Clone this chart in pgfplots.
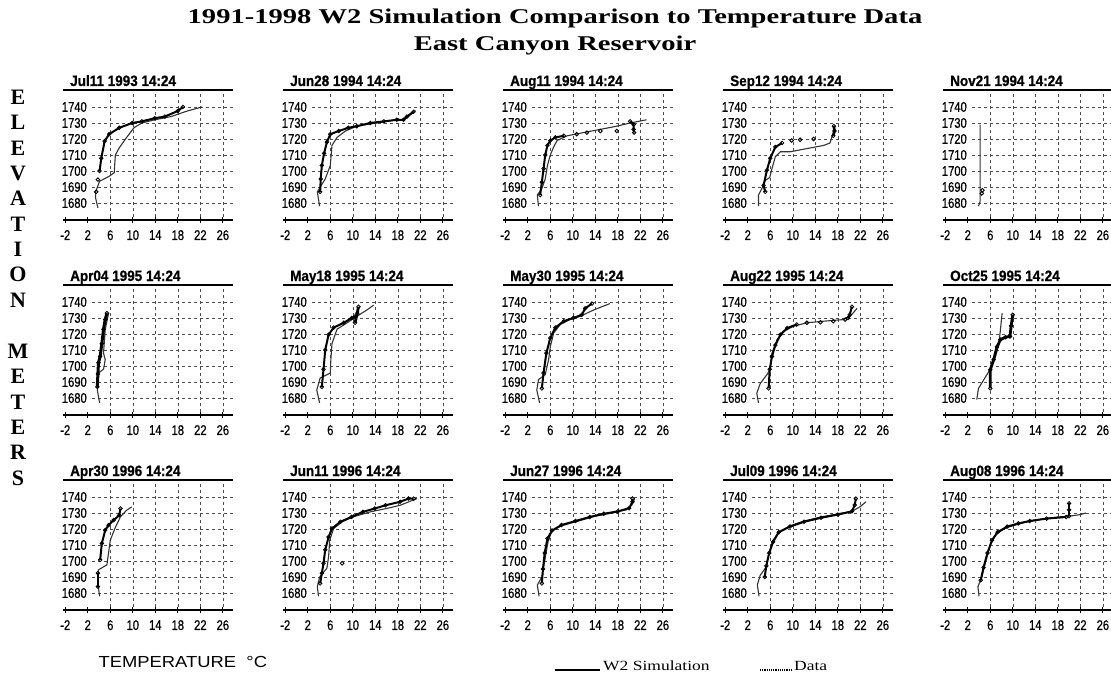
\documentclass[border=0pt]{standalone}
\usepackage{pgfplots}
\pgfplotsset{compat=1.18}
\usepackage{fontspec}
\setmainfont{Liberation Serif}
\newfontfamily\tickfont[FakeStretch=0.8, FakeBold=0.6]{Liberation Sans}
\newfontfamily\ptfont[FakeStretch=0.9, FakeBold=0.8]{Liberation Sans}
\newfontfamily\headfont[FakeStretch=1.36]{Liberation Serif}
\newfontfamily\legfont[FakeStretch=1.25]{Liberation Serif}
\newfontfamily\sansleg[FakeStretch=1.15]{Liberation Sans}
\newfontfamily\sidefont{Liberation Serif}

\tikzset{gridline/.style={black!70, line width=0.6pt, dash pattern=on 3pt off 3pt}}
\pgfplotsset{
  panel/.style={
    width=170pt, height=130pt, scale only axis,
    xmin=-2.4, xmax=27.8, ymin=1669.4, ymax=1750.6,
    xtick={-2,2,...,26}, ytick={1680,1690,...,1740},
    axis line style={draw=none},
    xtick pos=bottom, ytick pos=left,
    x tick style={black, line width=0.8pt},
    y tick style={draw=none},
    major tick length=6pt, tick align=center,
    /pgf/number format/assume math mode=true,
    /pgf/number format/1000 sep={},
    yticklabel style={font={\tickfont\fontsize{14pt}{14pt}\selectfont}, anchor=east, inner sep=0pt, xshift=27pt},
    xticklabel style={font={\tickfont\fontsize{14pt}{14pt}\selectfont}, anchor=north, inner sep=0pt, yshift=-7pt},
    clip mode=individual,
  },
  sim/.style={black!80, line width=1.1pt, no marks},
  dat/.style={black, line width=2pt, mark=o, mark size=1.8pt, mark options={line width=0.8pt, solid}},
  datm/.style={black, only marks, mark=o, mark size=1.8pt, mark options={line width=0.9pt}},
}

\newcommand\panelframe[1]{%
  \pgfplotsinvokeforeach{1680,1690,1700,1710,1720,1730,1740}{\draw[gridline] (axis cs:2.8,##1) -- (axis cs:27.8,##1);}
  \pgfplotsinvokeforeach{6,10,14,18,22,26}{\draw[gridline] (axis cs:##1,1671.5) -- (axis cs:##1,1749);}
  \draw[line width=2pt] (rel axis cs:0,0) -- (rel axis cs:1,0);
  \draw[line width=2pt] (rel axis cs:0,1) -- (rel axis cs:1,1);
  \node[anchor=base west, inner sep=0pt, font={\ptfont\fontsize{15pt}{15pt}\selectfont\bfseries}] at ([xshift=7pt,yshift=4pt]rel axis cs:0,1) {#1};
}

\begin{document}
\begin{tikzpicture}
\useasboundingbox (0pt,0pt) rectangle (1111pt,-679pt);

% main title
\node[font={\headfont\fontsize{21pt}{21pt}\selectfont\bfseries}] at (555pt,-18pt) {1991-1998 W2 Simulation Comparison to Temperature Data};
\node[font={\headfont\fontsize{21pt}{21pt}\selectfont\bfseries}] at (555pt,-45pt) {East Canyon Reservoir};

% side label
\foreach \l/\yy in {E/97,L/122.4,E/147.8,V/173.2,A/198.6,T/224,I/249.4,O/274.8,N/300.2,M/351,E/376.4,T/401.8,E/427.2,R/452.6,S/478}
  \node[font={\sidefont\fontsize{22pt}{22pt}\selectfont\bfseries}] at (18pt,-\yy pt) {\l};

% ---------------- Row 1 ----------------
\begin{axis}[panel, at={(63pt,-90pt)}, anchor=north west]
\panelframe{Jul11 1993 14:24}
\addplot[sim] coordinates {(3.8,1677)(3.4,1683)(3.4,1687)(4.1,1693.6)(5.8,1696.7)(6.7,1699)(6.9,1710)(7.6,1714.5)(8.7,1720)(10.2,1727)(11.6,1730)(13.9,1732)(16.8,1734)(19.7,1737.5)(22.3,1740)};
\addplot[datm] coordinates {(3.5,1687)(3.8,1694.6)};
\addplot[dat] coordinates {(4.1,1700)(4.4,1708)(5,1718.7)(5.8,1723)(7.6,1727)(9.9,1730)(11.6,1731)(13.9,1733)(15.7,1734)(18,1737.5)(18.9,1740)};
\end{axis}

\begin{axis}[panel, at={(283pt,-90pt)}, anchor=north west]
\panelframe{Jun28 1994 14:24}
\addplot[sim] coordinates {(4.1,1678)(3.7,1687)(5.1,1695)(6,1703.5)(6.3,1716)(7.2,1721)(8.7,1725)(10.7,1728)(14.3,1730)(17.8,1732)(19,1732)(19.9,1734)(21.1,1738)};
\addplot[dat] coordinates {(4.2,1687)(4.3,1695)(4.5,1703.5)(4.9,1711)(5.4,1718)(6,1723)(7.5,1725)(9.2,1727)(10.7,1728)(13.1,1730)(15.5,1731)(17.8,1732)(19,1732)(19.6,1734)(20.8,1737)};
\end{axis}

\begin{axis}[panel, at={(503pt,-90pt)}, anchor=north west]
\panelframe{Aug11 1994 14:24}
\addplot[sim] coordinates {(3.9,1678)(3.7,1685)(4.5,1689)(5.1,1695)(5.5,1703.5)(6,1710)(6.6,1715)(7.2,1719)(9,1722)(11.9,1724)(14.9,1726)(17.8,1728)(20.2,1730)(23.1,1732)};
\addplot[dat] coordinates {(4.2,1685)(4.5,1693)(4.8,1701.5)(5.1,1710)(5.5,1716)(6,1719)(6.9,1721)(8.4,1722)};
\addplot[datm] coordinates {(10.7,1723)(12.5,1724)(14.9,1725)(17.8,1725)};
\addplot[dat] coordinates {(20.2,1731)(20.8,1729)(20.8,1726)(20.9,1724)};
\end{axis}

\begin{axis}[panel, at={(723pt,-90pt)}, anchor=north west]
\panelframe{Sep12 1994 14:24}
\addplot[sim] coordinates {(3.9,1678)(3.9,1685)(4.5,1689)(5.1,1694)(5.9,1696)(6.3,1701.5)(6.9,1709)(7.8,1712)(9.5,1712)(12.5,1714)(15.5,1716)(16.6,1717.5)(17.2,1724)(17.3,1728)};
\addplot[dat] coordinates {(5.1,1687)(4.8,1691)(5.4,1700.5)(6,1708)(6.9,1715)(8.1,1717.5)};
\addplot[datm] coordinates {(9.8,1719)(11.3,1719.5)(13.7,1720)};
\addplot[dat, line width=2.6pt] coordinates {(17.2,1722)(17.4,1725)(17.3,1728)};
\end{axis}

\begin{axis}[panel, at={(943pt,-90pt)}, anchor=north west]
\panelframe{Nov21 1994 14:24}
\addplot[sim] coordinates {(3.9,1678)(4.2,1681)(4.2,1729)};
\addplot[datm] coordinates {(4.5,1686)(4.6,1688)};
\end{axis}

% ---------------- Row 2 ----------------
\begin{axis}[panel, at={(63pt,-285pt)}, anchor=north west]
\panelframe{Apr04 1995 14:24}
\addplot[sim] coordinates {(4.1,1677)(3.7,1685)(3.9,1695.6)(4.8,1698)(5.1,1704)(4.8,1708)(5.1,1722.7)(5.7,1733)};
\addplot[dat, line width=3pt] coordinates {(3.7,1687)(3.8,1695)(3.9,1702)(4.2,1706)(4.5,1714)(4.8,1723)(5.1,1729)(5.4,1733)};
\end{axis}

\begin{axis}[panel, at={(283pt,-285pt)}, anchor=north west]
\panelframe{May18 1995 14:24}
\addplot[sim] coordinates {(4.1,1677)(3.6,1685)(4.2,1692.5)(6,1695.6)(6.1,1704)(6.3,1714)(7.2,1723)(9,1727)(10.7,1731)(12.5,1735)(13.7,1738)};
\addplot[dat] coordinates {(4.5,1687)(4.8,1698)(5.1,1710)(5.7,1719.6)(6.6,1724)(8.4,1727)(9.8,1730)(10.4,1731)};
\addplot[dat, line width=2.8pt] coordinates {(10.4,1727)(10.8,1733)(11,1737)};
\end{axis}

\begin{axis}[panel, at={(503pt,-285pt)}, anchor=north west]
\panelframe{May30 1995 14:24}
\addplot[sim] coordinates {(4.1,1677)(3.6,1685)(3.9,1691.5)(5.1,1694.6)(5.7,1704)(6,1712)(6.6,1720.6)(7.8,1726)(9.5,1729)(11.3,1731)(13.7,1735)(16.6,1739)};
\addplot[dat] coordinates {(4.5,1686)(4.8,1695.6)(5.3,1708)(6,1717.5)(6.9,1724)(8.4,1728)(10.1,1730)(11.6,1732)(12.2,1736)(13.4,1739)};
\end{axis}

\begin{axis}[panel, at={(723pt,-285pt)}, anchor=north west]
\panelframe{Aug22 1995 14:24}
\addplot[sim] coordinates {(3.9,1677)(3.6,1683)(4.2,1689)(5.4,1694.6)(6,1698)(6.3,1708)(7.2,1716.5)(8.4,1721.7)(10.1,1724.8)(12.5,1727)(15.5,1728)(19,1729)(20.2,1731)(21.4,1736)};
\addplot[dat] coordinates {(5.7,1686)(5.9,1698)(6.3,1706)(6.9,1713)(7.8,1719.6)(9,1723.7)(10.7,1726)};
\addplot[datm] coordinates {(12.5,1727)(14.9,1727.3)(17.2,1728)(19.3,1729)};
\addplot[dat] coordinates {(19.8,1730)(20.1,1732)(20.5,1737)};
\end{axis}

\begin{axis}[panel, at={(943pt,-285pt)}, anchor=north west]
\panelframe{Oct25 1995 14:24}
\addplot[sim] coordinates {(3.6,1679)(3.9,1686)(5.4,1694.6)(6.3,1700)(6.9,1706)(7.5,1713)(7.8,1722.7)(8.1,1733)};
\addplot[dat, line width=2.8pt] coordinates {(6,1686)(6,1697.7)(6.6,1704)(7.2,1712)(7.8,1716.5)(8.7,1718)(9.5,1718.5)(9.7,1725)(10,1732)};
\end{axis}

% ---------------- Row 3 ----------------
\begin{axis}[panel, at={(63pt,-480pt)}, anchor=north west]
\panelframe{Apr30 1996 14:24}
\addplot[sim] coordinates {(4.1,1678)(3.8,1686)(3.9,1694.5)(5.4,1697.6)(6,1713)(6.9,1721)(7.8,1727.6)(8.9,1731.7)(9.8,1733.8)};
\addplot[dat, line width=2.6pt] coordinates {(3.8,1684)(3.8,1692.4)};
\addplot[dat] coordinates {(4.2,1700.7)(4.5,1711)(5.1,1719.3)(5.7,1722.4)(6.6,1725.5)(7.6,1728.6)(7.8,1732.8)};
\end{axis}

\begin{axis}[panel, at={(283pt,-480pt)}, anchor=north west]
\panelframe{Jun11 1996 14:24}
\addplot[sim] coordinates {(3.9,1678)(3.7,1684)(4.1,1690)(5.4,1695.5)(5.7,1702.7)(5.9,1713)(6.6,1720.3)(8.1,1724.5)(10.1,1727.6)(13.1,1730.7)(16,1732.8)(18.4,1734.8)(19.9,1736.9)(21.4,1739)};
\addplot[dat] coordinates {(4.2,1686)(4.5,1692.4)(4.8,1698.6)(5.1,1707)(5.7,1715)(6.3,1720.3)(7.8,1724.5)(9.8,1727.6)(11.8,1730.7)(13.9,1732.8)(15.8,1734.8)(18.4,1737)(19.9,1739)(20.8,1739)};
\addplot[datm] coordinates {(8.1,1698.6)};
\end{axis}

\begin{axis}[panel, at={(503pt,-480pt)}, anchor=north west]
\panelframe{Jun27 1996 14:24}
\addplot[sim] coordinates {(4,1678)(3.7,1685)(4.5,1690)(5,1700)(5.6,1712)(6.3,1719)(8,1722)(11,1725)(14,1728)(17,1730)(19.5,1732)(20.5,1735)(21,1739)};
\addplot[dat] coordinates {(4.5,1686)(4.7,1695)(5,1705)(5.5,1714)(6.3,1719)(8,1722.5)(10.5,1725)(13,1727.5)(15.5,1729.5)(18,1731)(20,1733)(20.6,1737)(20.6,1739)};
\end{axis}

\begin{axis}[panel, at={(723pt,-480pt)}, anchor=north west]
\panelframe{Jul09 1996 14:24}
\addplot[sim] coordinates {(4,1678)(3.7,1685)(4.2,1691)(5.2,1696)(5.8,1705)(6.5,1713)(7.5,1718)(9.5,1722)(12,1725)(15,1727.5)(18,1729.5)(20.5,1731)(22,1734)(23,1737)};
\addplot[dat] coordinates {(5,1690)(5.3,1697)(5.8,1705)(6.5,1712)(7.5,1718)(9.5,1721.5)(12,1724.5)(15,1727)(18,1729)(20.5,1731)(21,1735)(21.2,1739)};
\end{axis}

\begin{axis}[panel, at={(943pt,-480pt)}, anchor=north west]
\panelframe{Aug08 1996 14:24}
\addplot[sim] coordinates {(4,1678)(3.8,1684)(4.5,1690)(5.2,1700)(6,1710)(7,1717)(9,1721)(12,1724)(15,1726)(18,1727.5)(20,1728)(22,1729)(23,1730)};
\addplot[dat] coordinates {(4.3,1688)(4.8,1696)(5.5,1705)(6.3,1713)(7.3,1718)(9,1721.5)(11,1723.5)(13,1725)(16,1726.5)(19.5,1727.5)};
\addplot[dat, line width=2.6pt] coordinates {(20,1728)(20,1732)(20,1736)};
\end{axis}

% footer
\node[anchor=west, font={\sansleg\fontsize{16pt}{16pt}\selectfont}] at (95pt,-662pt) {TEMPERATURE~~°C};
\draw[line width=2pt] (555pt,-670pt) -- (600pt,-670pt);
\node[anchor=base west, inner sep=0pt, font={\legfont\fontsize{14pt}{14pt}\selectfont}] at (603pt,-670pt) {W2 Simulation};
\draw[line width=2.5pt, dash pattern=on 1.2pt off 1pt] (760pt,-670pt) -- (792pt,-670pt);
\node[anchor=base west, inner sep=0pt, font={\legfont\fontsize{14pt}{14pt}\selectfont}] at (794pt,-670pt) {Data};
\end{tikzpicture}
\end{document}
